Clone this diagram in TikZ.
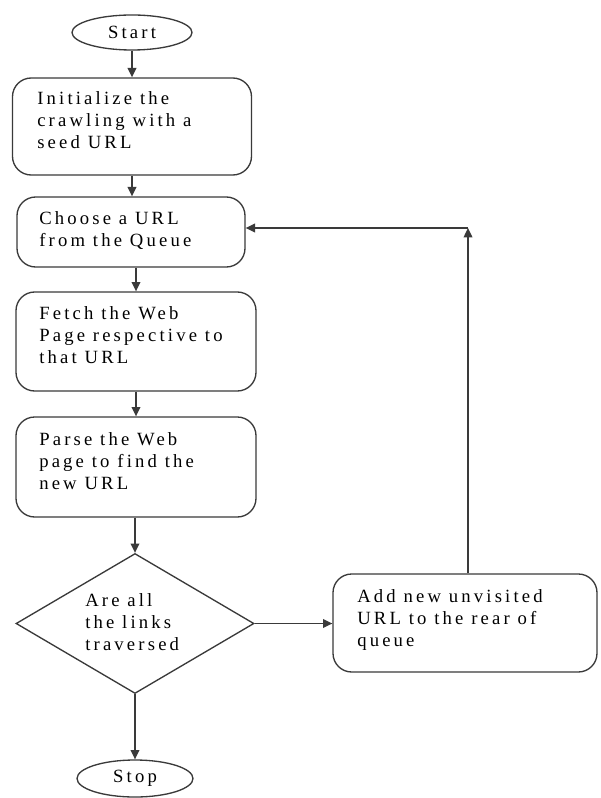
\documentclass[tikz,border=0pt]{standalone}
\usepackage{fontspec}
\setmainfont{Liberation Serif}[LetterSpace=17]
\usetikzlibrary{shapes.geometric,arrows.meta}
\definecolor{ln}{HTML}{3A3A3A}
\begin{document}
\begin{tikzpicture}[x=0.75pt,y=-0.75pt,
  shp/.style={draw=ln,line width=1pt,fill=white,inner sep=0pt},
  box/.style={shp,rectangle,rounded corners=14pt},
  oval/.style={shp,ellipse},
  dia/.style={shp,diamond},
  txt/.style={inner sep=0pt,align=left,font=\fontsize{14pt}{16.5pt}\selectfont},
  arr/.style={draw=ln,line width=1pt,-{Triangle[length=7pt,width=6.5pt]}}]
\useasboundingbox (0,0) rectangle (600,798);
% shapes
\node[oval,minimum width=90pt,minimum height=26.25pt] (start) at (132,32.5) {};
\node[txt] (startT) at (132,32.5) {Start};
\node[box,minimum width=179.25pt,minimum height=72.75pt] (init) at (132,126.5) {};
\node[txt,anchor=base west] (initT) at (37,149) {Initialize the\\crawling with a\\seed URL};
\node[box,minimum width=171pt,minimum height=52.5pt] (choose) at (131,232) {};
\node[txt,anchor=base west] (chooseT) at (39,247) {Choose a URL\\from the Queue};
\node[box,minimum width=180pt,minimum height=74.25pt] (fetch) at (136,341.5) {};
\node[txt,anchor=base west] (fetchT) at (39,363) {Fetch the Web\\Page respective to\\that URL};
\node[box,minimum width=180pt,minimum height=75pt] (parse) at (136,467) {};
\node[txt,anchor=base west] (parseT) at (39,489) {Parse the Web\\page to find the\\new URL};
\node[dia,minimum width=178.5pt,minimum height=105pt] (dec) at (135,623.5) {};
\node[txt,anchor=base west] (decT) at (85,650) {Are all\\the links\\traversed};
\node[oval,minimum width=87pt,minimum height=27.75pt] (stop) at (135,778.5) {};
\node[txt] (stopT) at (135,778.5) {Stop};
\node[box,minimum width=198pt,minimum height=73.5pt] (add) at (465,623) {};
\node[txt,anchor=base west] (addT) at (357,646) {Add new unvisited\\URL to the rear of\\queue};
\coordinate (corner) at (468,228);
% connectors
\draw[arr] (start.south) -- (init.north -| start.south);
\draw[arr] (init.south) -- (choose.north -| init.south);
\draw[arr] (choose.south -| fetch.north) -- (fetch.north);
\draw[arr] (fetch.south) -- (parse.north);
\draw[arr] (parse.south -| dec.north) -- (dec.north);
\draw[arr] (dec.south) -- (stop.north);
\draw[arr] (dec.east) -- (add.west |- dec.east);
\draw[arr] (add.north -| corner) -- (corner);
\draw[arr] (corner) -- (choose.east |- corner);
\end{tikzpicture}
\end{document}
